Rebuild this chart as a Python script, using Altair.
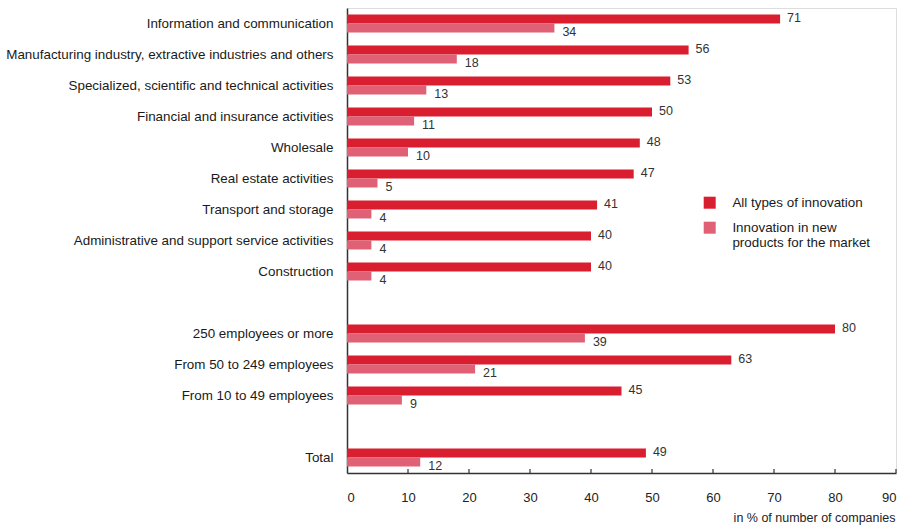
import altair as alt
import pandas as pd

categories = [
    "Information and communication",
    "Manufacturing industry, extractive industries and others",
    "Specialized, scientific and technical activities",
    "Financial and insurance activities",
    "Wholesale",
    "Real estate activities",
    "Transport and storage",
    "Administrative and support service activities",
    "Construction",
    "250 employees or more",
    "From 50 to 249 employees",
    "From 10 to 49 employees\u00a0",
    "Total",
]
all_types = [71, 56, 53, 50, 48, 47, 41, 40, 40, 80, 63, 45, 49]
new_products = [34, 18, 13, 11, 10, 5, 4, 4, 4, 39, 21, 9, 12]
series_names = ["All types of innovation", "Innovation in new products for the market"]
x_ticks = [10, 20, 30, 40, 50, 60, 70, 80, 90]

# row order with blank spacer rows between groups
domain = categories[0:9] + [" "] + categories[9:12] + ["  "] + categories[12:]

rows = []
for c, a, n in zip(categories, all_types, new_products):
    rows.append({"cat": c, "series": series_names[0], "value": a})
    rows.append({"cat": c, "series": series_names[1], "value": n})
df = pd.DataFrame(rows)
ticks_df = pd.DataFrame({"t": x_ticks})

W, H = 549, 465
colors = ["#d81e2f", "#e06075"]

x_enc = alt.X(
    "value:Q",
    scale=alt.Scale(domain=[0, 90], nice=False),
    axis=alt.Axis(
        values=[0] + x_ticks,
        tickSize=0,
        labelFontSize=13,
        labelPadding=18,
        labelColor="#222",
        labelFont="Liberation Sans",
        domainColor="#333",
        domainWidth=1.5,
        grid=False,
        title="in % of number of companies",
        titleFont="Liberation Sans",
        titleFontSize=12.5,
        titleFontWeight="normal",
        titleColor="#222",
        titleAnchor="end",
        titleAlign="right",
        titleBaseline="bottom",
        titleX=W - 1,
        titleY=51,
    ),
)
y_enc = alt.Y(
    "cat:N",
    sort=domain,
    scale=alt.Scale(domain=domain, paddingInner=0.42, paddingOuter=0.21),
    axis=alt.Axis(
        title=None,
        ticks=False,
        labelFontSize=13.4,
        labelFont="Liberation Sans",
        labelColor="#1a1a1a",
        labelPadding=14,
        labelLimit=400,
        domainColor="#333",
        domainWidth=1.5,
    ),
)
yoff = alt.YOffset("series:N", sort=series_names)

bars = alt.Chart(df).mark_bar().encode(
    x=x_enc,
    y=y_enc,
    yOffset=yoff,
    color=alt.Color(
        "series:N",
        sort=series_names,
        scale=alt.Scale(domain=series_names, range=colors),
        legend=alt.Legend(
            title=None,
            orient="none",
            legendX=356,
            legendY=188,
            symbolType="square",
            symbolSize=144,
            symbolStrokeWidth=0,
            labelFont="Liberation Sans",
            labelFontSize=13.4,
            labelColor="#1a1a1a",
            labelOffset=16,
            labelLimit=300,
            rowPadding=10,
            padding=0,
            labelExpr="datum.label == 'Innovation in new products for the market' ? ['Innovation in new', 'products for the market'] : datum.label",
        ),
    ),
)

text_all = alt.Chart(df).transform_filter(
    alt.datum.series == series_names[0]
).mark_text(
    align="left", baseline="middle", dx=7, dy=-1, fontSize=12.5, font="Liberation Sans", color="#333"
).encode(x="value:Q", y=alt.Y("cat:N", sort=domain), yOffset=yoff, text="value:Q")

text_new = alt.Chart(df).transform_filter(
    alt.datum.series == series_names[1]
).mark_text(
    align="left", baseline="middle", dx=8, dy=4, fontSize=12.5, font="Liberation Sans", color="#333"
).encode(x="value:Q", y=alt.Y("cat:N", sort=domain), yOffset=yoff, text="value:Q")

tick_marks = alt.Chart(ticks_df).mark_rule(color="#333", strokeWidth=1.2).encode(
    x="t:Q", y=alt.value(H - 4), y2=alt.value(H)
)

chart = alt.layer(bars, text_all, text_new, tick_marks).properties(
    width=W,
    height=H,
    autosize=alt.AutoSizeParams(type="none"),
    padding={"left": 347, "top": 8, "right": 8, "bottom": 54},
).configure_view(stroke=None).configure(font="Liberation Sans")

chart.save("out.html", embed_options={"renderer": "svg", "actions": False})
